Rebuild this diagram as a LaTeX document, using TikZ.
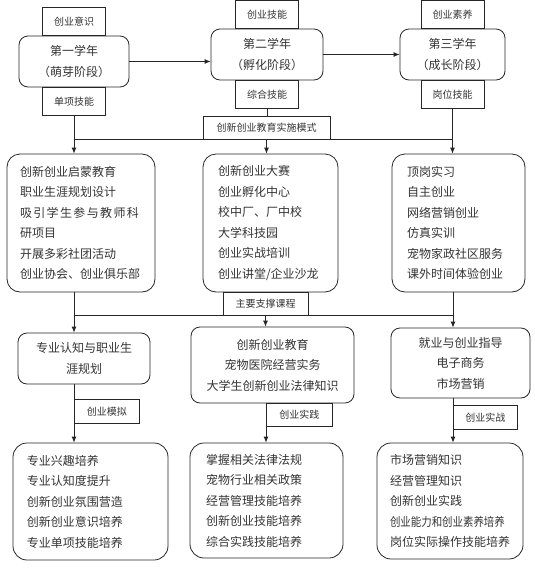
\documentclass[tikz,border=0pt]{standalone}
\usepackage{fontspec}
\usepackage{graphicx}
\newfontfamily\cjk{Noto Sans CJK SC}
\usetikzlibrary{arrows.meta}

\begin{document}
\begin{tikzpicture}[x=1pt,y=-1pt,>={Latex[length=6pt,width=5pt]},line width=0.8pt,draw=black!85,
    every node/.style={font=\cjk\fontsize{12}{20.5}\selectfont,text=black!80},
    tag/.style={draw,font=\cjk\fontsize{10}{12}\selectfont,minimum width=63pt,minimum height=28pt,inner sep=0pt},
    year/.style={draw,rounded corners=9pt,align=center,minimum width=#1,minimum height=51pt,inner sep=0pt},
    listbox/.style={draw,rounded corners=13pt,align=left,inner ysep=0pt}]
  \useasboundingbox (0,0) rectangle (535,571);

  \node[year=110pt] (y1) at (74,61.5) {第一学年\\（萌芽阶段）};
  \node[year=112pt] (y2) at (267,54.5) {第二学年\\（孵化阶段）};
  \node[year=105pt] (y3) at (452.5,54.5) {第三学年\\（成长阶段）};
  \node[tag,anchor=south] (a1) at (y1.north) {创业意识};
  \node[tag,anchor=north] (b1) at (y1.south) {单项技能};
  \node[tag,anchor=south] (a2) at (y2.north) {创业技能};
  \node[tag,anchor=north] (b2) at (y2.south) {综合技能};
  \node[tag,anchor=south] (a3) at (y3.north) {创业素养};
  \node[tag,anchor=north] (b3) at (y3.south) {岗位技能};
  \draw[->] (y1.east) -- (y1.east -| y2.west);
  \draw[->] (y2.east) -- (y2.east -| y3.west);

  \node[tag,minimum width=127pt,minimum height=23pt] (mode) at (266.5,127.5) {创新创业教育实施模式};
  \draw (b2.south) -- (b2.south |- mode.north);
  \draw (b1.south |- mode.south) -- (b3.south |- mode.south);

  \node[listbox,text width=122pt,inner xsep=13pt,minimum height=138pt] (m1) at (81,223)
    {创新创业启蒙教育\\职业生涯规划设计\\\makebox[119pt][s]{吸\hfil 引\hfil 学\hfil 生\hfil 参\hfil 与\hfil 教\hfil 师\hfil 科}\\研项目\\开展多彩社团活动\\创业协会、创业俱乐部};
  \node[listbox,text width=105pt,inner xsep=15pt,minimum height=138pt] (m2) at (270.5,223)
    {创新创业大赛\\创业孵化中心\\校中厂、厂中校\\大学科技园\\创业实战培训\\创业讲堂/企业沙龙};
  \node[listbox,text width=103pt,inner xsep=15pt,minimum height=138pt] (m3) at (458.5,223)
    {顶岗实习\\自主创业\\网络营销创业\\仿真实训\\宠物家政社区服务\\课外时间体验创业};
  \draw[->] (b1.south) -- (b1.south |- m1.north);
  \draw[->] (mode.south) -- (mode.south |- m2.north);
  \draw[->] (b3.south) -- (b3.south |- m3.north);

  \node[tag,minimum width=85pt,minimum height=23pt] (course) at (265.5,303.5) {主要支撑课程};

  \node[year=132pt] (r1) at (84,358.5) {专业认知与职业生\\涯规划};
  \node[year=163pt,minimum height=76pt] (r2) at (272.5,365) {创新创业教育\\宠物医院经营实务\\大学生创新创业法律知识};
  \node[year=139pt,minimum height=70pt] (r3) at (460.5,363) {就业与创业指导\\电子商务\\市场营销};

  \node[tag,minimum width=65pt,minimum height=24pt,anchor=north west] (t4) at (74,399) {创业模拟};
  \node[tag,minimum width=66pt,minimum height=23pt,anchor=north west] (t5) at (266,403) {创业实践};
  \node[tag,minimum width=64pt,minimum height=24pt,anchor=north west] (t6) at (453,405) {创业实战};

  \draw[->] (m1.south -| t4.west) -- (r1.north -| t4.west);
  \draw (t4.west |- course.south) -- (t6.west |- course.south);
  \draw[->] (course.south) -- (course.south |- r2.north);
  \draw[->] (m3.south -| t6.west) -- (r3.north -| t6.west);

  \node[listbox,rounded corners=14pt,text width=127pt,inner xsep=14pt,minimum height=117pt] (s1) at (90.5,501.5)
    {专业兴趣培养\\专业认知度提升\\创新创业氛围营造\\创新创业意识培养\\专业单项技能培养};
  \node[listbox,rounded corners=14pt,text width=121pt,inner xsep=16pt,minimum height=115pt] (s2) at (266.5,500.5)
    {掌握相关法律法规\\宠物行业相关政策\\经营管理技能培养\\创新创业技能培养\\综合实践技能培养};
  \node[listbox,rounded corners=14pt,text width=120pt,inner xsep=13pt,minimum height=116pt] (s3) at (450,501)
    {市场营销知识\\经营管理知识\\创新创业实践\\\scalebox{0.87}[1]{创业能力和创业素养培养}\\岗位实际操作技能培养};

  \draw[->] (r1.south -| t4.west) -- (s1.north -| t4.west);
  \draw[->] (r2.south -| t5.west) -- (s2.north -| t5.west);
  \draw[->] (r3.south -| t6.west) -- (s3.north -| t6.west);
\end{tikzpicture}
\end{document}
